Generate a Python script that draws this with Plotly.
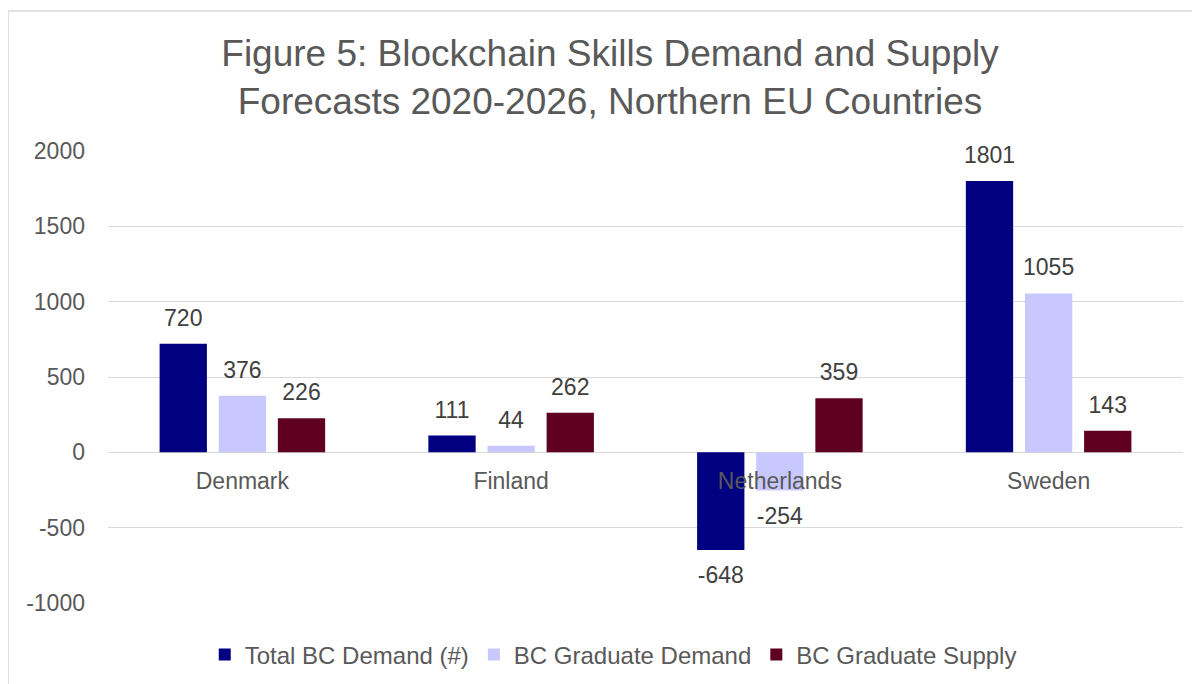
import plotly.graph_objects as go

countries = ["Denmark", "Finland", "Netherlands", "Sweden"]
total_demand = [720, 111, -648, 1801]
grad_demand = [376, 44, -254, 1055]
grad_supply = [226, 262, 359, 143]
series_names = ["Total BC Demand (#)", "BC Graduate Demand", "BC Graduate Supply"]
series_colors = ["#000080", "#c8c8ff", "#600020"]
y_ticks = [-1000, -500, 0, 500, 1000, 1500, 2000]

FONT = "Liberation Sans, Arial, sans-serif"
series_values = [total_demand, grad_demand, grad_supply]

fig = go.Figure()
for i, (name, vals, col) in enumerate(zip(series_names, series_values, series_colors)):
    fig.add_trace(go.Bar(
        x=countries, y=vals, name=name, marker=dict(color=col, line=dict(width=0)),
        offsetgroup=str(i), alignmentgroup="a", hoverinfo="x+y+name",
    ))
for i, vals in enumerate(series_values):
    fig.add_trace(go.Scatter(
        x=countries, y=vals, mode="markers+text", text=[str(v) for v in vals],
        textposition=["top center" if v >= 0 else "bottom center" for v in vals],
        marker=dict(size=[18 if v >= 0 else 24 for v in vals], opacity=0),
        showlegend=False, hoverinfo="skip",
        textfont=dict(size=23, color="#404040", family=FONT),
        offsetgroup=str(i), alignmentgroup="a", cliponaxis=False,
    ))

fig.update_layout(
    width=1200, height=684,
    margin=dict(l=100, r=25, t=143, b=89, autoexpand=False),
    paper_bgcolor="white", plot_bgcolor="white",
    barmode="group", bargap=0.34, bargroupgap=0.2,
    scattermode="group", scattergap=0.34,
    font=dict(family=FONT, color="#595959"),
    title=dict(
        text="Figure 5: Blockchain Skills Demand and Supply<br>Forecasts 2020-2026, Northern EU Countries",
        x=602 / 1200, xanchor="center", xref="container",
        y=(684 - 58) / 684, yanchor="middle", yref="container",
        font=dict(size=37, color="#595959", family=FONT),
    ),
    yaxis=dict(
        range=[-1000, 2000], tickvals=y_ticks, ticktext=[str(t) for t in y_ticks],
        showgrid=True, gridcolor="#d9d9d9", gridwidth=1,
        zeroline=True, zerolinecolor="#d9d9d9", zerolinewidth=1, showline=False,
        tickfont=dict(size=23, color="#595959"), ticks="", ticklabelstandoff=22,
        automargin=False,
    ),
    xaxis=dict(
        anchor="free", position=1/3, showgrid=False, showline=False, zeroline=False, ticks="",
        tickfont=dict(size=23, color="#595959"), layer="above traces",
        ticklabelstandoff=13, automargin=False,
    ),
    legend=dict(
        orientation="h", x=0.47, xanchor="center", y=-0.115, yanchor="middle",
        font=dict(size=24, color="#595959"), traceorder="normal",
    ),
    shapes=[dict(type="rect", xref="paper", yref="paper", x0=-0.093, x1=1.2, y0=-0.3, y1=1.31,
                 line=dict(color="#d9d9d9", width=1.5), fillcolor="rgba(0,0,0,0)", layer="below")],
    showlegend=True,
)

fig.write_html("out.html")
